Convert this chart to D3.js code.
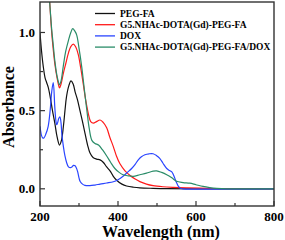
<!DOCTYPE html>
<html>
<head>
<meta charset="utf-8">
<script src="https://d3js.org/d3.v7.min.js"></script>
<style>
  body { margin: 0; background: #fff; }
  text { font-family: "Liberation Serif", "Times New Roman", serif; font-weight: bold; }
</style>
</head>
<body>
<div class="wrapper"></div>
<script>
// series: [wavelength nm, absorbance]
var pegFA = [[200,1.0],[204,0.88],[208.5,0.78],[213,0.71],[217,0.68],[221,0.65],[226,0.59],[232,0.5],[238,0.42],[244,0.33],[250,0.28],[255,0.31],[260,0.4],[264,0.5],[268,0.59],[274,0.66],[279.5,0.69],[285,0.67],[290,0.62],[296,0.57],[302.5,0.5],[309,0.43],[315,0.36],[322,0.28],[328,0.23],[336,0.2],[345,0.19],[354,0.185],[362,0.17],[371,0.14],[379.5,0.115],[388,0.08],[396.5,0.055],[410,0.03],[422,0.018],[440,0.01],[456,0.006],[490,0.003],[525,0.001],[600,0],[800,0]];
var g5PegFA = [[222,1.3],[226,1.15],[230,1.0],[234,0.89],[238,0.8],[243,0.72],[247,0.67],[250,0.645],[254,0.67],[260,0.74],[266,0.8],[273,0.87],[279,0.91],[285.5,0.925],[291,0.91],[298,0.86],[304,0.78],[311,0.67],[317,0.57],[324,0.48],[330,0.43],[337,0.42],[345,0.43],[354,0.44],[362,0.425],[371,0.39],[379,0.33],[388,0.27],[396,0.21],[405,0.16],[418,0.115],[431,0.085],[444,0.062],[456,0.046],[473,0.03],[490,0.02],[515,0.013],[542,0.009],[575,0.006],[610,0.004],[650,0.001],[700,0],[800,0]];
var dox = [[200,0.4],[204,0.34],[207,0.325],[210,0.325],[215,0.35],[221,0.4],[226,0.5],[230,0.62],[234,0.68],[238,0.52],[241,0.43],[243,0.41],[246,0.43],[248,0.45],[251,0.46],[254,0.42],[256,0.35],[260,0.27],[264,0.21],[268,0.17],[273,0.14],[278,0.135],[282,0.14],[286,0.15],[290,0.147],[293,0.135],[296.5,0.11],[300,0.07],[303,0.047],[309,0.03],[315,0.022],[328,0.02],[341,0.024],[354,0.03],[371,0.037],[388,0.045],[400,0.058],[413,0.08],[424,0.105],[435,0.13],[444,0.157],[452,0.185],[460,0.205],[469,0.218],[480,0.224],[490,0.224],[499,0.212],[507,0.195],[515,0.165],[525,0.13],[532,0.117],[538,0.108],[542,0.09],[546,0.065],[550,0.04],[555,0.015],[560,0.003],[566,0],[800,0]];
var g5PegFADox = [[222,1.3],[226,1.15],[230,1.02],[234,0.92],[238,0.82],[243,0.73],[247,0.685],[250,0.665],[254,0.69],[260,0.79],[266,0.88],[273,0.95],[279,1.0],[284,1.025],[289,1.01],[294,0.985],[300,0.9],[307,0.78],[313,0.65],[320,0.505],[326,0.39],[333,0.31],[341,0.29],[350,0.28],[360,0.25],[371,0.21],[381,0.17],[392,0.13],[403,0.105],[413,0.09],[426,0.083],[439,0.08],[456,0.09],[473,0.1],[490,0.113],[499,0.115],[512,0.105],[525,0.09],[538,0.07],[550,0.048],[567,0.04],[584,0.036],[600,0.026],[618,0.015],[635,0.008],[653,0.003],[680,0],[800,0]];

var seriesNames = ["PEG-FA", "G5.NHAc-DOTA(Gd)-PEG-FA", "DOX", "G5.NHAc-DOTA(Gd)-PEG-FA/DOX"];
var seriesData = [pegFA, g5PegFA, dox, g5PegFADox];
var seriesColors = ["#111111", "#ff1a1a", "#2a45ff", "#2a8c68"];

var xMajor = [200, 400, 600, 800];
var xMinor = [300, 500, 700];
var yMajor = [0.0, 0.5, 1.0];
var yMinor = [0.25, 0.75];

var margin = {top: 2, right: 11, bottom: 34, left: 40},
  width = 285 - margin.left - margin.right,
  height = 240 - margin.top - margin.bottom;

var svg = d3.select(".wrapper")
  .append("svg")
    .attr("width", 285)
    .attr("height", 240)
  .append("g")
    .attr("transform", "translate(" + margin.left + "," + margin.top + ")");

var x = d3.scaleLinear().domain([200, 800]).range([0, width]);
var y = d3.scaleLinear().domain([-0.11, 1.195]).range([height, 0]);

svg.append("clipPath").attr("id", "clip")
  .append("rect").attr("width", width).attr("height", height);

// curves
var line = d3.line()
  .x(function(d) { return x(d[0]); })
  .y(function(d) { return y(d[1]); })
  .curve(d3.curveCatmullRom.alpha(0.5));

svg.append("g").attr("clip-path", "url(#clip)")
  .selectAll("path")
  .data(seriesData)
  .enter()
  .append("path")
    .attr("d", line)
    .style("fill", "none")
    .style("stroke", function(d, i) { return seriesColors[i]; })
    .style("stroke-width", 1.2);

// frame
svg.append("rect")
  .attr("width", width).attr("height", height)
  .style("fill", "none").style("stroke", "#333").style("stroke-width", 1.4);

// x axis (inward ticks)
var xAxis = svg.append("g").attr("transform", "translate(0," + height + ")");
xAxis.selectAll(".maj").data(xMajor).enter().append("line")
  .attr("x1", function(d) { return x(d); }).attr("x2", function(d) { return x(d); })
  .attr("y1", 0).attr("y2", -5).style("stroke", "#333").style("stroke-width", 1.2);
xAxis.selectAll(".min").data(xMinor).enter().append("line")
  .attr("x1", function(d) { return x(d); }).attr("x2", function(d) { return x(d); })
  .attr("y1", 0).attr("y2", -3).style("stroke", "#333").style("stroke-width", 1.2);
xAxis.selectAll("text").data(xMajor).enter().append("text")
  .attr("x", function(d) { return x(d); })
  .attr("y", 14.5)
  .style("text-anchor", "middle")
  .style("font-size", "13px")
  .text(function(d) { return d; });

// y axis
var yAxis = svg.append("g");
yAxis.selectAll(".maj").data(yMajor).enter().append("line")
  .attr("y1", function(d) { return y(d); }).attr("y2", function(d) { return y(d); })
  .attr("x1", 0).attr("x2", 5).style("stroke", "#333").style("stroke-width", 1.2);
yAxis.selectAll(".min").data(yMinor).enter().append("line")
  .attr("y1", function(d) { return y(d); }).attr("y2", function(d) { return y(d); })
  .attr("x1", 0).attr("x2", 3).style("stroke", "#333").style("stroke-width", 1.2);
yAxis.selectAll("text").data(yMajor).enter().append("text")
  .attr("x", -5)
  .attr("y", function(d) { return y(d); })
  .attr("dy", "0.35em")
  .style("text-anchor", "end")
  .style("font-size", "13px")
  .text(function(d) { return d3.format(".1f")(d); });

// axis titles
svg.append("text")
  .attr("x", width / 2 + 4)
  .attr("y", height + 30.5)
  .style("text-anchor", "middle")
  .style("font-size", "16px")
  .text("Wavelength (nm)");

svg.append("text")
  .attr("transform", "translate(" + (-26) + "," + (height / 2 + 3) + ") rotate(-90)")
  .style("text-anchor", "middle")
  .style("font-size", "16px")
  .text("Absorbance");

// legend
var legend = svg.selectAll(".legend")
  .data(seriesNames).enter()
  .append("g")
  .attr("transform", function(d, i) { return "translate(55," + (11.5 + i * 11.2) + ")"; });
legend.append("line")
  .attr("x1", 0).attr("x2", 20)
  .style("stroke", function(d, i) { return seriesColors[i]; })
  .style("stroke-width", 1.3);
legend.append("text")
  .attr("x", 25).attr("dy", "0.35em")
  .style("font-size", "9.5px")
  .text(function(d) { return d; });
</script>
</body>
</html>
